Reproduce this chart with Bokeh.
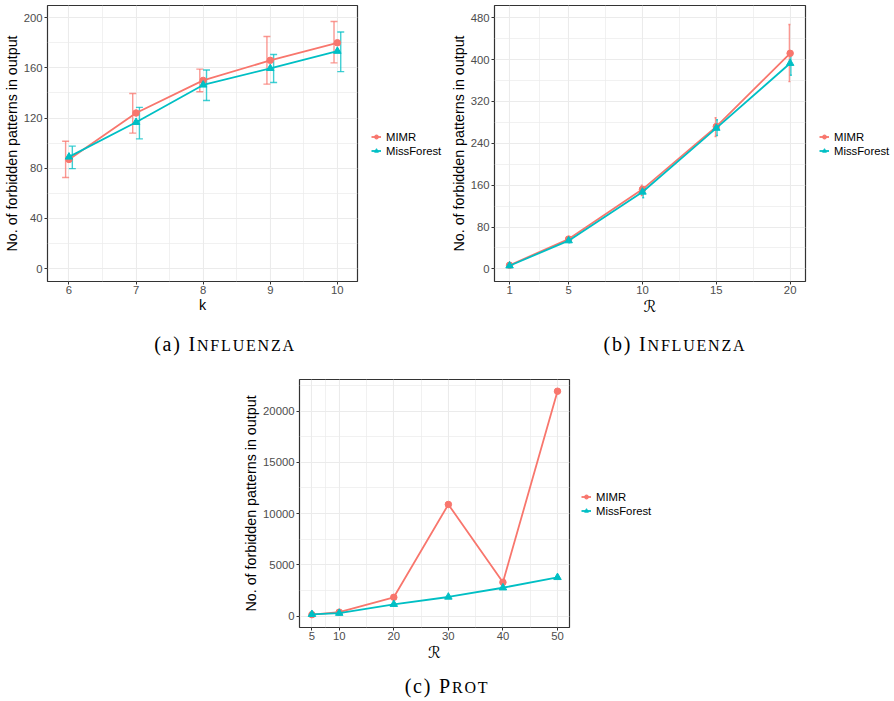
from bokeh.plotting import figure
from bokeh.models import (ColumnDataSource, FixedTicker, Range1d, Legend, LegendItem,
                          Whisker, TeeHead, Div, Spacer)
from bokeh.layouts import column, row
from bokeh.transform import dodge
from bokeh.embed import file_html
from bokeh.resources import INLINE

# ---------------- data ----------------
series_names = ["MIMR", "MissForest"]
series_colors = ["#F8766D", "#00BFC4"]
series_markers = ["circle", "triangle"]

# (a) Influenza, varying k
k_vals = [6, 7, 8, 9, 10]
a_mimr = [87, 124, 150, 166, 180]
a_mimr_lo = [72.6, 108, 141, 147, 164]
a_mimr_hi = [101.5, 139.5, 159, 185, 197]
a_mf = [89, 116.6, 146.4, 159.6, 173.3]
a_mf_lo = [79.7, 103.4, 134, 148.3, 157]
a_mf_hi = [97.6, 128.5, 158.3, 170.7, 188.6]
a_xticks = [6, 7, 8, 9, 10]
a_yticks = [0, 40, 80, 120, 160, 200]

# (b) Influenza, varying R
b_r = [1, 5, 10, 15, 20]
b_mimr = [7, 57, 152, 272, 412]
b_mimr_lo = [5, 53, 140, 253, 358]
b_mimr_hi = [9, 61, 160, 289, 467]
b_mf = [6, 54, 147, 269, 393]
b_mf_lo = [4, 50, 136, 255, 370]
b_mf_hi = [8, 58, 156, 285, 415]
b_xticks = [1, 5, 10, 15, 20]
b_yticks = [0, 80, 160, 240, 320, 400, 480]

# (c) Prot, varying R
c_r = [5, 10, 20, 30, 40, 50]
c_mimr = [150, 390, 1840, 10890, 3300, 21930]
c_mf = [180, 290, 1160, 1870, 2770, 3780]
c_xticks = [5, 10, 20, 30, 40, 50]
c_yticks = [0, 5000, 10000, 15000, 20000]

y_title = "No. of forbidden patterns in output"
SANS = "Liberation Sans"


def minors(ticks, lo, hi):
    out = [(a + b) / 2 for a, b in zip(ticks[:-1], ticks[1:])]
    first = ticks[0] - (ticks[1] - ticks[0]) / 2
    last = ticks[-1] + (ticks[-1] - ticks[-2]) / 2
    if first > lo:
        out.insert(0, first)
    if last < hi:
        out.append(last)
    return out


def make_fig(width, height, xr, yr, left, xticks, yticks, xlabel, xlabel_font, xlabel_size):
    p = figure(width=width, height=height, x_range=Range1d(*xr), y_range=Range1d(*yr),
               output_backend="svg", toolbar_location=None, title=None,
               min_border_left=left, min_border_right=2,
               min_border_top=5, min_border_bottom=35)
    p.background_fill_color = "white"
    p.border_fill_color = "white"
    p.outline_line_color = "#333333"
    p.outline_line_width = 1.2
    p.xaxis.ticker = FixedTicker(ticks=xticks, minor_ticks=minors(xticks, *xr))
    p.yaxis.ticker = FixedTicker(ticks=yticks, minor_ticks=minors(yticks, *yr))
    for ax in (p.xaxis[0], p.yaxis[0]):
        ax.axis_line_color = None
        ax.major_tick_line_color = "#333333"
        ax.major_tick_out = 3
        ax.major_tick_in = 0
        ax.minor_tick_line_color = None
        ax.major_label_text_font = SANS
        ax.major_label_text_font_size = "11.3px"
        ax.major_label_text_color = "#4D4D4D"
        ax.axis_label_text_font_style = "normal"
        ax.axis_label_text_color = "black"
    p.xaxis.major_label_standoff = 0
    p.yaxis.major_label_standoff = 1
    p.xaxis.axis_label_standoff = 0
    p.yaxis.axis_label_standoff = 1
    p.xaxis.axis_label = xlabel
    p.xaxis.axis_label_text_font = xlabel_font
    p.xaxis.axis_label_text_font_size = xlabel_size
    p.yaxis.axis_label = y_title
    p.yaxis.axis_label_text_font = SANS
    p.yaxis.axis_label_text_font_size = "14.3px"
    for g in (p.xgrid[0], p.ygrid[0]):
        g.grid_line_color = "#EBEBEB"
        g.grid_line_width = 1.1
        g.minor_grid_line_color = "#EBEBEB"
        g.minor_grid_line_width = 0.7
    return p


def add_series(p, x, ys, errs, head):
    for i, name in enumerate(series_names):
        col = series_colors[i]
        src = ColumnDataSource(dict(x=x, y=ys[i]))
        if errs is not None:
            lo, hi = errs[i]
            esrc = ColumnDataSource(dict(x=x, lo=lo, hi=hi))
            off = -0.05 if i == 0 else 0.05
            w = Whisker(source=esrc, base=dodge("x", off), lower="lo", upper="hi",
                        line_color=col, line_width=1.4, line_alpha=0.75,
                        lower_head=TeeHead(size=head, line_color=col, line_width=1.4, line_alpha=0.75),
                        upper_head=TeeHead(size=head, line_color=col, line_width=1.4, line_alpha=0.75))
            p.add_layout(w)
        p.line("x", "y", source=src, line_color=col, line_width=1.8)
        p.scatter("x", "y", source=src, marker=series_markers[i],
                  size=6.5 if i == 0 else 7.5, fill_color=col, line_color=col)


def legend_fig(width, height, loc, x, ys):
    # a strip holding the legend; its ranges lie outside the data so only the legend shows
    q = figure(width=width, height=height, x_range=Range1d(-2, -1), y_range=Range1d(-2, -1),
               output_backend="svg", toolbar_location=None, title=None,
               x_axis_type=None, y_axis_type=None,
               min_border_left=0, min_border_right=0, min_border_top=0, min_border_bottom=0)
    q.outline_line_color = None
    q.xgrid.visible = False
    q.ygrid.visible = False
    items = []
    for i, name in enumerate(series_names):
        col = series_colors[i]
        src = ColumnDataSource(dict(x=x, y=ys[i]))
        lr = q.line("x", "y", source=src, line_color=col, line_width=1.8)
        sr = q.scatter("x", "y", source=src, marker=series_markers[i],
                       size=6.5 if i == 0 else 7.5, fill_color=col, line_color=col)
        items.append(LegendItem(label=name, renderers=[lr, sr]))
    leg = Legend(items=items, location=loc, border_line_color=None,
                 background_fill_alpha=0, padding=0, margin=0, spacing=1,
                 glyph_width=10, glyph_height=13, label_height=13, label_standoff=5,
                 label_text_font=SANS, label_text_font_size="11.3px",
                 label_text_color="black")
    q.add_layout(leg)
    return q


# ---------------- panel (a) ----------------
fa = make_fig(359, 318, (5.68, 10.3), (-10.3, 209.7), 45, a_xticks, a_yticks, "k", SANS, "14.3px")
add_series(fa, k_vals, [a_mimr, a_mf], [(a_mimr_lo, a_mimr_hi), (a_mf_lo, a_mf_hi)], 7)
la = legend_fig(88, 318, (12, 124), k_vals, [a_mimr, a_mf])

# ---------------- panel (b) ----------------
fb = make_fig(360, 318, (-0.02, 21.04), (-24.1, 503.4), 47, b_xticks, b_yticks, "ℛ", "DejaVu Sans", "16px")
add_series(fb, b_r, [b_mimr, b_mf], [(b_mimr_lo, b_mimr_hi), (b_mf_lo, b_mf_hi)], 2)
lb = legend_fig(87, 318, (12, 124), b_r, [b_mimr, b_mf])

# ---------------- panel (c) ----------------
fc = make_fig(341, 290, (2.72, 52.2), (-1105, 23073), 69, c_xticks, c_yticks, "ℛ", "DejaVu Sans", "16px")
add_series(fc, c_r, [c_mimr, c_mf], None, 0)
lc = legend_fig(323, 290, (10, 110), c_r, [c_mimr, c_mf])


def caption(tag, first, rest, width, height, pad_top, shift=0):
    html = ('<div style="font-family:\'Liberation Serif\',serif;font-size:20px;line-height:20px;'
            f'padding-top:{pad_top}px;text-align:center;color:#000;letter-spacing:1.8px;'
            f'white-space:nowrap;position:relative;left:{shift}px;width:{width}px;">'
            f'({tag}) {first}<span style="font-size:16px;text-transform:uppercase;">{rest}</span></div>')
    return Div(text=html, width=width, height=height, margin=0)


cap_a = caption("a", "I", "nfluenza", 450, 56, 16)
cap_b = caption("b", "I", "nfluenza", 444, 56, 16, 3)
cap_c = caption("c", "P", "rot", 894, 37, 12)

layout = column(row(fa, la, fb, lb), row(cap_a, cap_b),
                row(Spacer(width=230, height=290), fc, lc), cap_c)

open("out.html", "w").write(file_html(layout, INLINE))
